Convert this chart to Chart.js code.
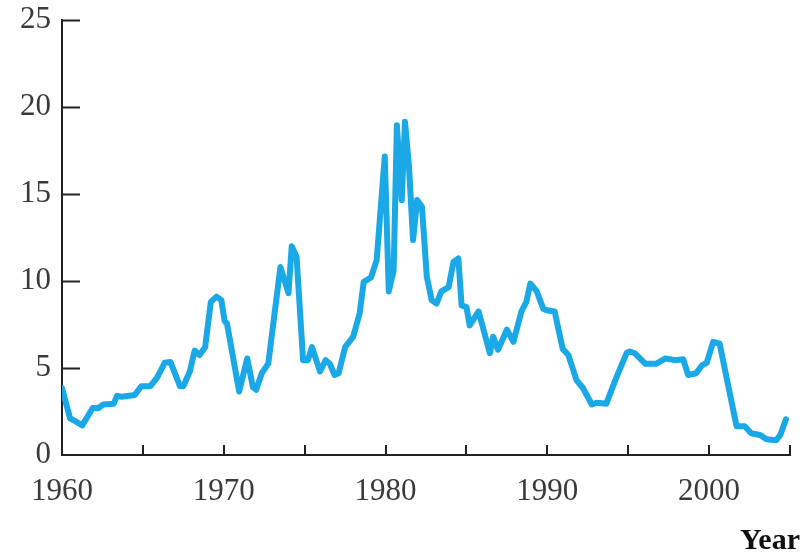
<!DOCTYPE html>
<html>
<head>
<meta charset="utf-8">
<title>Rate by year</title>
<script src="https://cdn.jsdelivr.net/npm/chart.js@4.4.1/dist/chart.umd.min.js"></script>
<style>
  html, body { margin: 0; padding: 0; background: #fff; }
  #wrap { width: 807px; height: 557px; }
</style>
</head>
<body>
<div id="wrap"><canvas id="rateChart" width="807" height="557"></canvas></div>
<script>
'use strict';

// ── Data ─────────────────────────────────────────────────────
const years = [
  1960.0, 1960.5, 1960.9, 1961.25, 1961.9, 1962.25, 1962.55, 1963.2, 1963.4, 1963.7,
  1964.5, 1964.9, 1965.45, 1965.85, 1966.35, 1966.7, 1967.3, 1967.5, 1967.9, 1968.2,
  1968.5, 1968.85, 1969.2, 1969.55, 1969.85, 1970.05, 1970.2, 1970.95, 1971.45, 1971.8,
  1972.0, 1972.35, 1972.75, 1973.5, 1974.0, 1974.2, 1974.5, 1974.9, 1975.2, 1975.45,
  1975.95, 1976.3, 1976.55, 1976.85, 1977.1, 1977.5, 1978.0, 1978.4, 1978.65, 1979.1,
  1979.45, 1979.95, 1980.2, 1980.5, 1980.7, 1981.0, 1981.2, 1981.45, 1981.7, 1981.95,
  1982.25, 1982.55, 1982.85, 1983.15, 1983.45, 1983.9, 1984.2, 1984.5, 1984.7, 1985.0,
  1985.2, 1985.75, 1986.45, 1986.65, 1986.95, 1987.5, 1987.9, 1988.4, 1988.7, 1988.95,
  1989.35, 1989.75, 1990.05, 1990.45, 1990.95, 1991.3, 1991.8, 1992.2, 1992.75, 1993.05,
  1993.65, 1994.2, 1994.9, 1995.1, 1995.4, 1996.05, 1996.75, 1997.3, 1997.9, 1998.4,
  1998.7, 1999.2, 1999.55, 1999.85, 2000.25, 2000.65, 2001.2, 2001.7, 2002.2, 2002.6,
  2003.15, 2003.55, 2004.15, 2004.4, 2004.75
];
const rates = [
  3.85, 2.1, 1.9, 1.7, 2.7, 2.7, 2.9, 2.95, 3.4, 3.35,
  3.45, 3.95, 3.95, 4.4, 5.3, 5.35, 3.95, 3.95, 4.8, 6.0,
  5.75, 6.2, 8.8, 9.1, 8.9, 7.7, 7.55, 3.65, 5.55, 3.9,
  3.75, 4.7, 5.25, 10.8, 9.3, 12.0, 11.4, 5.45, 5.45, 6.2,
  4.8, 5.45, 5.25, 4.6, 4.7, 6.2, 6.8, 8.15, 9.95, 10.2,
  11.2, 17.15, 9.4, 10.6, 18.95, 14.65, 19.15, 16.55, 12.35, 14.65,
  14.25, 10.25, 8.9, 8.7, 9.4, 9.65, 11.1, 11.3, 8.6, 8.5,
  7.45, 8.25, 5.85, 6.8, 6.05, 7.2, 6.5, 8.25, 8.8, 9.85,
  9.4, 8.4, 8.3, 8.25, 6.1, 5.75, 4.3, 3.85, 2.9, 3.0,
  2.95, 4.3, 5.85, 5.95, 5.85, 5.25, 5.25, 5.55, 5.45, 5.5,
  4.6, 4.7, 5.15, 5.3, 6.5, 6.4, 3.9, 1.65, 1.65, 1.25,
  1.15, 0.9, 0.85, 1.15, 2.05
];

// axis ranges and which ticks get marks / labels
const xMin = 1960, xMax = 2005;
const yMin = 0, yMax = 25;
const xTickMarks = [1965, 1970, 1975, 1980, 1985, 1990, 1995, 2000, 2005];
const yTickMarks = [5, 10, 15, 20, 25];
const xLabelYears = [1960, 1970, 1980, 1990, 2000];
const xTitle = 'Year';

const serif = '"Liberation Serif", "DejaVu Serif", serif';
const inkText = '#3a3a3a';

// ── Inside tick marks + axis title, placed via the chart's scales ──
const insideTicks = {
  id: 'insideTicks',
  afterDraw(chart) {
    const { ctx, scales: { x, y } } = chart;
    ctx.save();
    ctx.strokeStyle = '#222';
    ctx.lineWidth = 2;
    ctx.beginPath();
    yTickMarks.forEach(v => {
      const py = Math.round(y.getPixelForValue(v)) + 0.5;
      ctx.moveTo(x.left, py);
      ctx.lineTo(x.left + 18, py);
    });
    xTickMarks.forEach(v => {
      const px = Math.round(x.getPixelForValue(v));
      ctx.moveTo(px, y.bottom);
      ctx.lineTo(px, y.bottom - 10);
    });
    ctx.stroke();

    // "Year" sits under the right end of the axis
    ctx.fillStyle = '#111';
    ctx.font = 'bold 30px ' + serif;
    ctx.textAlign = 'right';
    ctx.textBaseline = 'middle';
    ctx.fillText(xTitle, x.right + 10, 541);
    ctx.restore();
  }
};

new Chart(document.getElementById('rateChart'), {
  type: 'line',
  data: {
    datasets: [{
      data: years.map((yr, i) => ({ x: yr, y: rates[i] })),
      borderColor: '#1aa8e6',
      borderWidth: 6,
      borderJoinStyle: 'round',
      borderCapStyle: 'round',
      pointRadius: 0,
      tension: 0,
      fill: false
    }]
  },
  options: {
    responsive: false,
    animation: false,
    layout: { padding: { top: 20, right: 17, left: 0, bottom: 0 } },
    plugins: { legend: { display: false }, tooltip: { enabled: false } },
    scales: {
      x: {
        type: 'linear',
        min: xMin, max: xMax,
        afterFit: s => { s.height = 102; s.paddingLeft = 0; s.paddingRight = 0; },
        afterBuildTicks: s => { s.ticks = xLabelYears.map(v => ({ value: v })); },
        grid: { display: false, drawTicks: false },
        border: { display: true, color: '#222', width: 2 },
        ticks: {
          padding: 18,
          maxRotation: 0,
          autoSkip: false,
          color: inkText,
          font: { family: serif, size: 31 },
          callback: v => String(v)
        }
      },
      y: {
        min: yMin, max: yMax,
        afterFit: s => { s.width = 62; s.paddingTop = 0; s.paddingBottom = 0; },
        grid: { display: false, drawTicks: false },
        border: { display: true, color: '#222', width: 2 },
        ticks: {
          stepSize: 5,
          padding: 11,
          color: inkText,
          font: { family: serif, size: 31 },
          callback: v => String(v)
        }
      }
    }
  },
  plugins: [insideTicks]
});
</script>
</body>
</html>
